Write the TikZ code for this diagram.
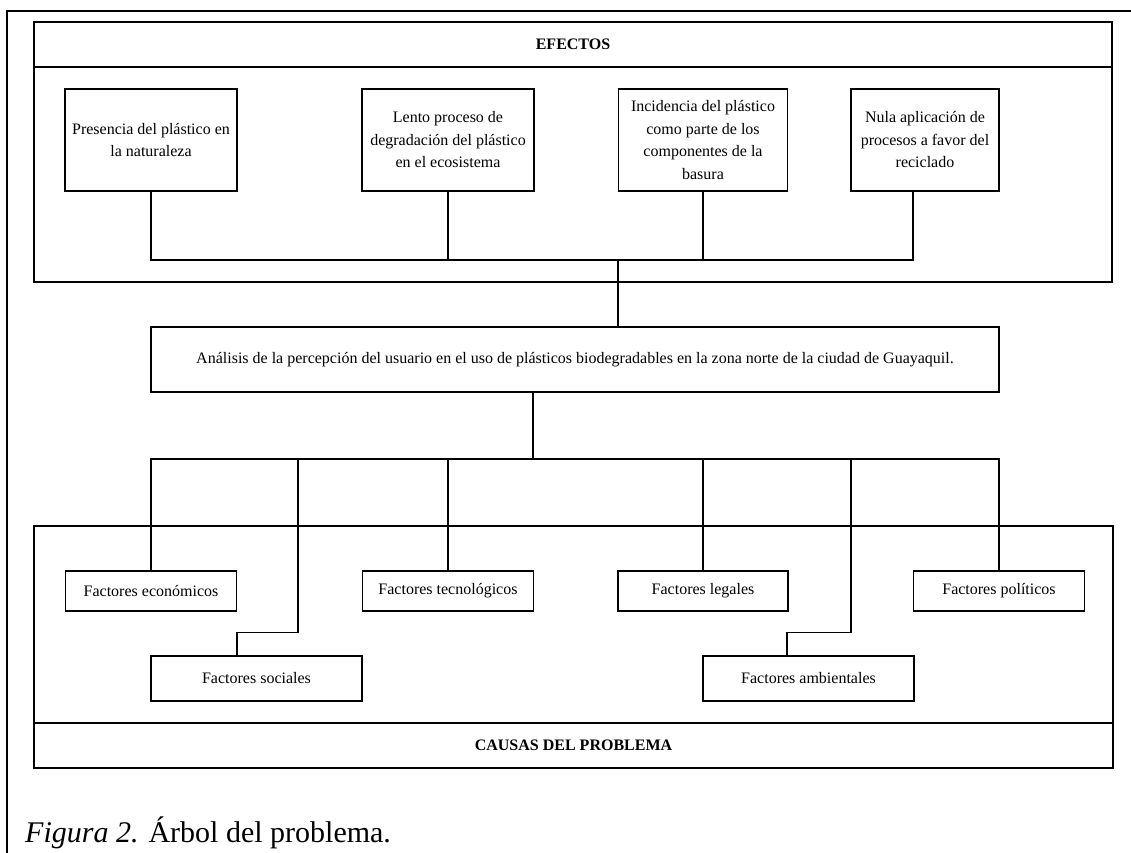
\documentclass[tikz,border=0pt]{standalone}
\usepackage{fontspec}
\setmainfont{Liberation Serif}
\begin{document}
\begin{tikzpicture}[x=1pt,y=-1pt,
  ln/.style={line width=1.3pt,line cap=rect},
  box/.style={draw,line width=1.3pt,inner sep=0pt,align=center,
    font=\fontsize{16}{22.5}\selectfont},
  frame/.style={draw,line width=1.3pt,inner sep=0pt},
  hd/.style={font=\fontsize{16}{20}\selectfont\bfseries}]
\useasboundingbox (0,0) rectangle (1131,852);
% outer frame (top and left)
\draw[ln] (1131,11) -- (7,11) -- (7,852);
% EFECTOS frame
\node[frame,minimum width=1078pt,minimum height=45pt,hd] (efh) at (573,44.5) {EFECTOS};
\node[frame,minimum width=1078pt,minimum height=215pt] (efb) at (573,174.5) {};
% effect boxes
\node[box,minimum width=172pt,minimum height=102pt] (e1) at (151,140) {Presencia del plástico en\\la naturaleza};
\node[box,minimum width=172pt,minimum height=102pt] (e2) at (448,140) {Lento proceso de\\degradación del plástico\\en el ecosistema};
\node[box,minimum width=169pt,minimum height=102pt] (e3) at (703,140) {Incidencia del plástico\\como parte de los\\componentes de la\\basura};
\node[box,minimum width=148pt,minimum height=102pt] (e4) at (925,140) {Nula aplicación de\\procesos a favor del\\reciclado};
% central problem
\node[box,minimum width=848pt,minimum height=65pt] (cen) at (575,359.5) {Análisis de la percepción del usuario en el uso de plásticos biodegradables en la zona norte de la ciudad de Guayaquil.};
% CAUSAS frame
\node[frame,minimum width=1079pt,minimum height=197pt] (cab) at (573.5,624.5) {};
\node[frame,minimum width=1079pt,minimum height=45pt,hd] (cah) at (573.5,745.5) {CAUSAS DEL PROBLEMA};
% cause boxes
\node[box,minimum width=171pt,minimum height=40pt] (c1) at (151,591) {Factores económicos};
\node[box,minimum width=211pt,minimum height=45pt] (c2) at (256.5,678.5) {Factores sociales};
\node[box,minimum width=171pt,minimum height=40pt] (c3) at (448,591) {Factores tecnológicos};
\node[box,minimum width=170pt,minimum height=40pt] (c4) at (703,591) {Factores legales};
\node[box,minimum width=211pt,minimum height=45pt] (c5) at (808.5,678.5) {Factores ambientales};
\node[box,minimum width=171pt,minimum height=40pt] (c6) at (999,591) {Factores políticos};
% junctions
\coordinate (j1) at (618,260);
\coordinate (j2) at (533,459);
\coordinate (k2) at (298,459);
\coordinate (k5) at (851,459);
% effect connectors
\draw[ln] (e1.south) |- (j1);
\draw[ln] (e2.south) -- (e2.south |- j1);
\draw[ln] (e3.south) -- (e3.south |- j1);
\draw[ln] ([xshift=-12pt]e4.south) |- (j1);
\draw[ln] (j1) -- (cen.north -| j1);
% cause connectors
\draw[ln] (cen.south -| j2) -- (j2);
\draw[ln] (c1.north) |- (j2);
\draw[ln] (c6.north) |- (j2);
\draw[ln] (c3.north) -- (c3.north |- j2);
\draw[ln] (c4.north) -- (c4.north |- j2);
\draw[ln] ([xshift=-19.5pt]c2.north) -- ++(0,-23) -| (k2);
\draw[ln] ([xshift=-21.5pt]c5.north) -- ++(0,-23) -| (k5);
% caption
\node[anchor=base west,inner sep=0pt,font=\fontsize{30}{36}\selectfont] (cap) at (25,842) {\textit{Figura 2.} Árbol del problema.};
\end{tikzpicture}
\end{document}
